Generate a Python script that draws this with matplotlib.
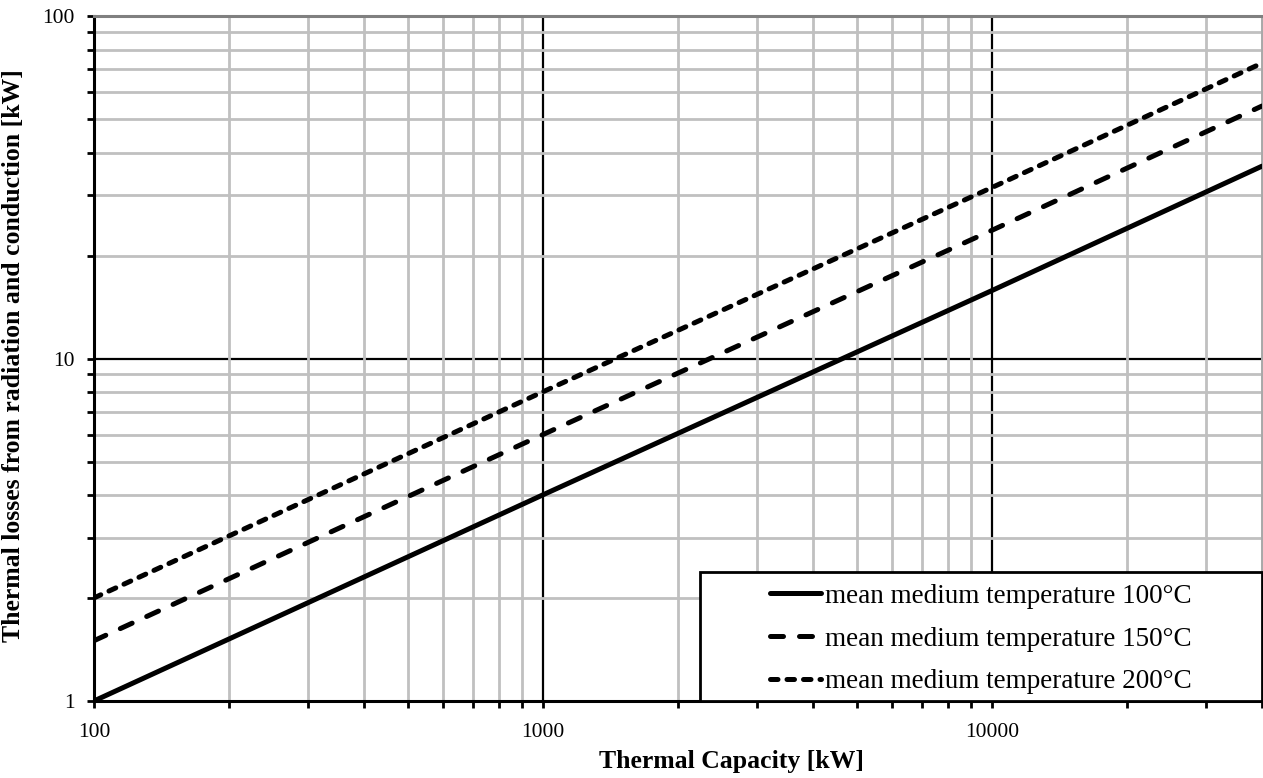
import matplotlib.pyplot as plt
from matplotlib.patches import Rectangle
from matplotlib.ticker import LogLocator, FixedLocator, NullFormatter

plt.rcParams['font.family'] = ['Liberation Serif', 'DejaVu Serif']

capacity = [100, 1000, 10000, 40000]
loss_100 = [1.0, 4.0, 15.8, 36.5]
loss_150 = [1.5, 6.0, 23.7, 54.7]
loss_200 = [2.0, 8.0, 31.6, 73.0]
labels = ["mean medium temperature 100°C",
          "mean medium temperature 150°C",
          "mean medium temperature 200°C"]

fig = plt.figure(figsize=(12.63, 7.78), dpi=100)
ax = fig.add_axes([0.0744, 0.099, 0.9248, 0.880])

ax.set_xscale('log')
ax.set_yscale('log')
ax.set_xlim(100, 40000)
ax.set_ylim(1, 100)

# grid: grey minors, black majors at 1000 / 10000 / 10
ax.xaxis.set_minor_locator(LogLocator(base=10, subs=range(2, 10)))
ax.yaxis.set_minor_locator(LogLocator(base=10, subs=range(2, 10)))
ax.xaxis.set_minor_formatter(NullFormatter())
ax.yaxis.set_minor_formatter(NullFormatter())
ax.grid(which='minor', color='#c0c0c0', linewidth=2.0)
for xv in [1000, 10000]:
    ax.axvline(xv, color='black', linewidth=1.6, zorder=1)
ax.axhline(10, color='black', linewidth=1.6, zorder=1)

lw = 3.6
ax.plot(capacity, loss_100, color='black', linewidth=lw, solid_capstyle='round',
        label=labels[0], zorder=3)
ax.plot(capacity, loss_150, color='black', linewidth=lw, dash_capstyle='round',
        dashes=(2.6, 3.2), label=labels[1], zorder=3)
ax.plot(capacity, loss_200, color='black', linewidth=lw, dash_capstyle='round',
        dashes=(1.5, 1.8), label=labels[2], zorder=3)

ax.xaxis.set_major_locator(FixedLocator([100, 1000, 10000]))
ax.yaxis.set_major_locator(FixedLocator([1, 10, 100]))
ax.set_xticklabels(['100', '1000', '10000'])
ax.set_yticklabels(['1', '10', '100'])
ax.tick_params(which='both', direction='out', length=5, width=2, color='black',
               labelsize=15.5)
ax.tick_params(axis='x', which='both', pad=10.5)
ax.tick_params(axis='y', which='both', pad=9)

for side in ['left', 'bottom']:
    ax.spines[side].set_linewidth(2.2)
    ax.spines[side].set_color('black')
ax.spines['top'].set_linewidth(2.2)
ax.spines['top'].set_color('#808080')
ax.spines['right'].set_linewidth(2.0)
ax.spines['right'].set_color('#a8a8a8')

ax.set_xlabel('Thermal Capacity [kW]', fontsize=18.5, fontweight='bold', va='center')
ax.xaxis.set_label_coords(0.546, -0.089)
ax.set_ylabel('Thermal losses from radiation and conduction [kW]', fontsize=18.5,
              fontweight='bold', va='center')
ax.yaxis.set_label_coords(-0.0685, 0.505)

# legend box drawn separately, entries placed inside
box = Rectangle((0.5188, 0.0), 0.4812, 0.1883, transform=ax.transAxes,
                facecolor='white', edgecolor='black', linewidth=2.0, zorder=4,
                clip_on=False)
ax.add_patch(box)
leg = ax.legend(loc='center', bbox_to_anchor=(0.7594, 0.0905), fontsize=19.5,
                frameon=False, borderpad=0, handlelength=1.9, handletextpad=0.15,
                labelspacing=0.65)
leg.set_zorder(5)

fig.savefig('out.png', dpi=100)
